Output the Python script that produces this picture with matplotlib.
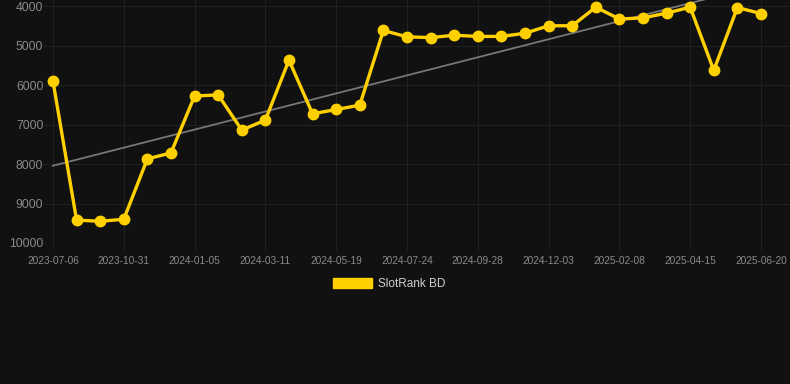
import matplotlib
matplotlib.use("Agg")
import matplotlib.pyplot as plt
import numpy as np
from matplotlib.patches import Patch

plt.rcParams['font.family'] = ['Liberation Sans', 'DejaVu Sans']

# Category dates (one per point); every 3rd one is shown as a tick label
dates = [
    "2023-07-06", "2023-08-14", "2023-09-22", "2023-10-31", "2023-11-22", "2023-12-14",
    "2024-01-05", "2024-01-27", "2024-02-18", "2024-03-11", "2024-04-03", "2024-04-26",
    "2024-05-19", "2024-06-10", "2024-07-02", "2024-07-24", "2024-08-15", "2024-09-06",
    "2024-09-28", "2024-10-20", "2024-11-11", "2024-12-03", "2024-12-25", "2025-01-17",
    "2025-02-08", "2025-03-02", "2025-03-24", "2025-04-15", "2025-05-07", "2025-05-29",
    "2025-06-20",
]
rank = [
    5900, 9420, 9450, 9400, 7870, 7720,
    6280, 6250, 7140, 6890, 5370, 6730,
    6620, 6510, 4620, 4780, 4800, 4740,
    4770, 4770, 4690, 4500, 4500, 4030,
    4330, 4300, 4180, 4030, 5630, 4040,
    4190,
]
series_name = "SlotRank BD"
y_ticks = [4000, 5000, 6000, 7000, 8000, 9000, 10000]

bg = "#111111"
grid_c = "#212121"
yellow = "#FFD000"

fig = plt.figure(figsize=(7.9, 3.84), dpi=100, facecolor=bg)
ax = fig.add_axes([44 / 790, 1 - 243 / 384, 1 - 44 / 790, 243 / 384])
ax.set_facecolor(bg)

x = np.arange(len(rank))
coef = np.polyfit(x, rank, 1)
ax.plot(x, np.polyval(coef, x), color="#777777", lw=1.3, zorder=2)
ax.plot(x, rank, color=yellow, lw=2.4, marker="o", ms=7.5, zorder=3,
        solid_joinstyle="round")

ax.set_ylim(10000, 3848)
ax.set_xlim(-0.38, 31.23)
ax.set_yticks(y_ticks)
ax.set_yticklabels([str(v) for v in y_ticks])
tick_idx = list(range(0, len(dates), 3))
ax.set_xticks(tick_idx)
ax.set_xticklabels([dates[i] for i in tick_idx])

ax.grid(True, color=grid_c, lw=0.8)
ax.set_axisbelow(True)
for s in ax.spines.values():
    s.set_visible(False)
ax.tick_params(axis="y", length=0, pad=0.5, labelsize=8.8, labelcolor="#8a8a8a")
ax.tick_params(axis="x", length=5, color=grid_c, pad=4, labelsize=7.3, labelcolor="#8a8a8a")

# Legend
handles = [Patch(facecolor=yellow, edgecolor=yellow, label=series_name)]
fig.legend(handles=handles, loc="center", bbox_to_anchor=(0.5 - 6 / 790, 1 - 284 / 384),
           frameon=False, fontsize=8.5, handlelength=3.3, handleheight=1.0,
           handletextpad=0.5, labelcolor="#d0d0d0")

fig.savefig("out.png", dpi=100, facecolor=bg)
